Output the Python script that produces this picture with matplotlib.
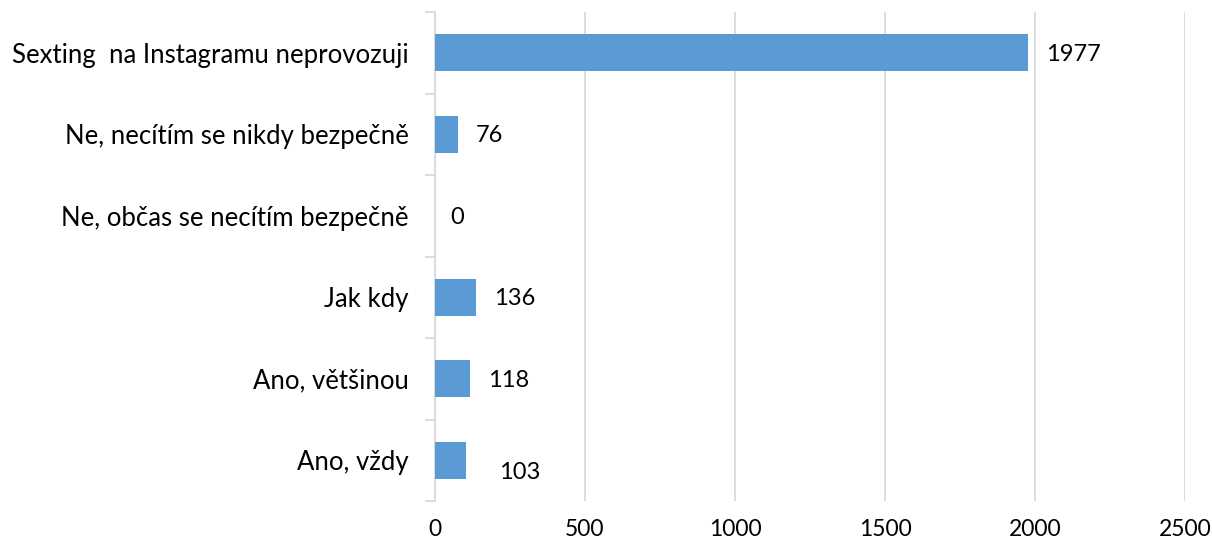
import matplotlib
matplotlib.use("Agg")
import matplotlib.pyplot as plt

categories = ["Sexting  na Instagramu neprovozuji", "Ne, necítím se nikdy bezpečně",
              "Ne, občas se necítím bezpečně", "Jak kdy", "Ano, většinou", "Ano, vždy"]
values = [1977, 76, 0, 136, 118, 103]
xticks = [0, 500, 1000, 1500, 2000, 2500]

# label offsets in points (style only)
label_dx = [13, 13, 11, 13, 13, 24]
label_dy = [-1, -1, -1, -1, -1, -9]

plt.rcParams['font.family'] = ['Lato', 'DejaVu Sans']

fig = plt.figure(figsize=(12.12, 5.42), dpi=100)
ax = fig.add_axes([435/1212, (542-501)/542, (1185-435)/1212, (501-12)/542])

n = len(categories)
ypos = list(range(n))[::-1]
ax.barh(ypos, values, height=0.45, color="#5B9BD5", zorder=3)
ax.set_xlim(0, 2500)
ax.set_ylim(-0.5, n - 0.5)

for y, v, dx, dy in zip(ypos, values, label_dx, label_dy):
    ax.annotate(str(v), xy=(v, y), xytext=(dx, dy), textcoords="offset points",
                ha="left", va="center", fontsize=17, color="#000000")

ax.set_xticks(xticks)
ax.set_xticklabels([str(t) for t in xticks], fontsize=16.5)
ax.tick_params(axis="x", length=0, pad=13)
ax.grid(axis="x", color="#D9D9D9", linewidth=1.3, zorder=0)

ax.set_yticks(ypos)
ax.set_yticklabels(categories, fontsize=18.5)
ax.tick_params(axis="y", which="major", length=0, pad=19)
ax.set_yticks([i - 0.5 for i in range(n + 1)], minor=True)
ax.tick_params(axis="y", which="minor", length=7, color="#D9D9D9", width=1.3)

for s in ["top", "right", "bottom"]:
    ax.spines[s].set_visible(False)
ax.spines["left"].set_color("#D9D9D9")
ax.spines["left"].set_linewidth(1.3)

fig.savefig("out.png", dpi=100)
